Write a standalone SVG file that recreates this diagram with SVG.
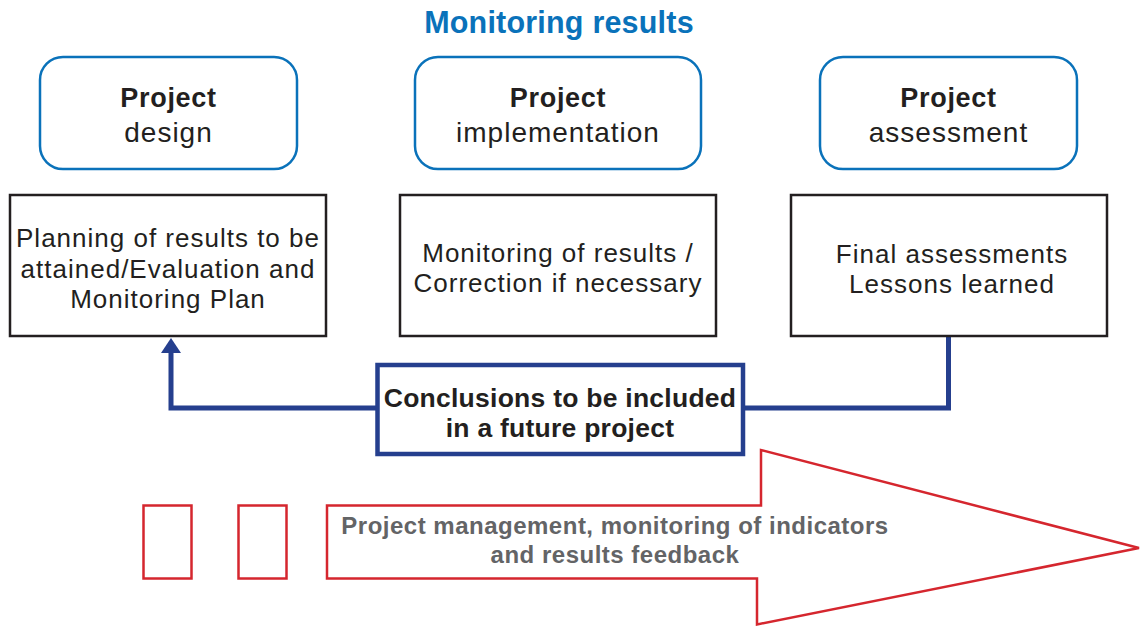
<svg xmlns="http://www.w3.org/2000/svg" width="1140" height="626" viewBox="0 0 1140 626">
<defs>
<style>
.t{font-family:"Liberation Sans",Arial,sans-serif;fill:#231F20;text-anchor:middle}
.title{font-size:30.5px;font-weight:bold;fill:#0A72BA;letter-spacing:0.2px}
.ph{fill:#fff;stroke:#0A72BA;stroke-width:2.5}
.hb{font-size:27px;font-weight:bold;letter-spacing:0.7px}
.hr{font-size:28px;letter-spacing:1px}
.box{fill:#fff;stroke:#231F20;stroke-width:2.5}
.bt{font-size:26px;letter-spacing:1px}
.conc{fill:#fff;stroke:#253F8E;stroke-width:4.5}
.ct{font-size:26.5px;font-weight:bold;letter-spacing:0.25px}
.conn{fill:none;stroke:#253F8E;stroke-width:5}
.red{fill:#fff;stroke:#D5262E;stroke-width:2.5}
.gt{font-size:24px;font-weight:bold;fill:#636466;letter-spacing:0.5px}
</style>
</defs>
<rect width="1140" height="626" fill="#fff"/>
<text class="t title" x="559" y="33">Monitoring results</text>

<g id="connectors">
<path class="conn" d="M377 408 H171 V350"/>
<polygon points="171,338 161,353 181,353" fill="#253F8E"/>
<path class="conn" d="M948.5 336 V408 H743"/>
</g>

<g id="phase-design">
<rect class="ph" x="40" y="57" width="257" height="112" rx="23"/>
<text class="t hb" x="168.5" y="107">Project</text>
<text class="t hr" x="168.5" y="142">design</text>
</g>
<g id="phase-implementation">
<rect class="ph" x="415" y="57" width="286" height="112" rx="23"/>
<text class="t hb" x="558" y="107">Project</text>
<text class="t hr" x="558" y="142">implementation</text>
</g>
<g id="phase-assessment">
<rect class="ph" x="820" y="57" width="257" height="112" rx="23"/>
<text class="t hb" x="948.5" y="107">Project</text>
<text class="t hr" x="948.5" y="142">assessment</text>
</g>

<g id="box-planning">
<rect class="box" x="10" y="195" width="316" height="141"/>
<text class="t bt" x="168" y="247">Planning of results to be</text>
<text class="t bt" x="168" y="277.5">attained/Evaluation and</text>
<text class="t bt" x="168" y="308">Monitoring Plan</text>
</g>
<g id="box-monitoring">
<rect class="box" x="400" y="195" width="316" height="141"/>
<text class="t bt" x="558" y="262">Monitoring of results /</text>
<text class="t bt" x="558" y="292">Correction if necessary</text>
</g>
<g id="box-final">
<rect class="box" x="791" y="195" width="316" height="141"/>
<text class="t bt" x="952" y="263">Final assessments</text>
<text class="t bt" x="952" y="293">Lessons learned</text>
</g>

<g id="conclusions">
<rect class="conc" x="377.5" y="365" width="365.5" height="89"/>
<text class="t ct" x="560" y="407">Conclusions to be included</text>
<text class="t ct" x="560" y="437">in a future project</text>
</g>

<g id="red-box-1">
<rect class="red" x="143.5" y="505.5" width="48" height="73"/>
</g>
<g id="red-box-2">
<rect class="red" x="238.5" y="505.5" width="48" height="73"/>
</g>
<g id="management-arrow">
<polygon class="red" points="327,505.5 761,505.5 761,450 1139,548 757,624.5 757,578.5 327,578.5"/>
<text class="t gt" x="615" y="534">Project management, monitoring of indicators</text>
<text class="t gt" x="615" y="563">and results feedback</text>
</g>
</svg>
